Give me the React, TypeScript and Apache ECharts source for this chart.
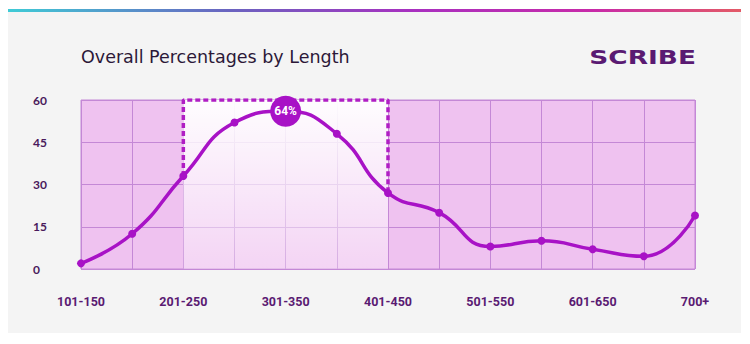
import React, { useEffect, useRef } from "react";
import * as echarts from "echarts";

const TITLE = "Overall Percentages by Length";
const BRAND = "SCRIBE";
const categories = [
  "101-150", "151-200", "201-250", "251-300", "301-350", "351-400", "401-450",
  "451-500", "501-550", "551-600", "601-650", "651-700", "700+",
];
const percentages = [2, 12.5, 33, 52, 56, 48, 27, 20, 8, 10, 7, 4.5, 19];
const yTicks = [0, 15, 30, 45, 60];
const highlightStart = 2; // "201-250"
const highlightEnd = 6; // "401-450"
const peakIndex = 4; // "301-350"
const peakLabel = "64%";

const PURPLE = "#a812c6";
const NARROW = "Roboto";

export default function App() {
  const ref = useRef<HTMLDivElement>(null);
  useEffect(() => {
    document.body.style.margin = "0";
    const chart = echarts.init(ref.current!, null, { renderer: "svg" });
    const yMax = yTicks[yTicks.length - 1];
    chart.setOption({
      animation: false,
      backgroundColor: "#ffffff",
      graphic: [
        {
          type: "rect",
          z: -10,
          shape: { x: 8, y: 12, width: 733, height: 321 },
          style: { fill: "#f4f4f4" },
          silent: true,
        },
        {
          type: "rect",
          z: -9,
          shape: { x: 8, y: 9, width: 733, height: 3 },
          style: {
            fill: new echarts.graphic.LinearGradient(0, 0, 1, 0, [
              { offset: 0, color: "#3fcbd6" },
              { offset: 0.3, color: "#6a64c0" },
              { offset: 0.55, color: "#a830c0" },
              { offset: 0.8, color: "#c82aa8" },
              { offset: 1, color: "#e35a66" },
            ]),
          },
          silent: true,
        },
        {
          type: "text",
          x: 81,
          y: 57,
          style: {
            text: TITLE,
            fill: "#2c1838",
            fontSize: 17.5,
            fontWeight: "normal",
            fontFamily: "'DejaVu Sans', sans-serif",
            verticalAlign: "middle",
            align: "left",
          },
        },
        {
          type: "text",
          x: 696,
          y: 57,
          scaleX: 1.32,
          style: {
            text: BRAND,
            fill: "#5a1a72",
            fontSize: 20,
            fontWeight: "bold",
            fontFamily: "'DejaVu Sans', sans-serif",
            verticalAlign: "middle",
            align: "right",
          },
        },
      ],
      grid: {
        left: 81,
        top: 100,
        width: 614,
        height: 169,
        show: true,
        backgroundColor: "#efc2f0",
        borderColor: "#c488d6",
        borderWidth: 1,
      },
      xAxis: {
        type: "category",
        data: categories,
        boundaryGap: false,
        axisLine: { show: false },
        axisTick: { show: false },
        splitLine: { show: true, interval: 0, lineStyle: { color: "#c488d6", width: 1 } },
        axisLabel: {
          interval: 1,
          margin: 26,
          color: "#5a1a72",
          fontSize: 12.5,
          fontWeight: "bold",
          fontFamily: NARROW,
        },
      },
      yAxis: {
        type: "value",
        min: 0,
        max: yMax,
        interval: 15,
        axisLine: { show: false },
        axisTick: { show: false },
        splitLine: { show: true, lineStyle: { color: "#c488d6", width: 1 } },
        axisLabel: {
          align: "left",
          margin: 48,
          color: "#4a1a5c",
          fontSize: 12,
          fontWeight: "bold",
          fontFamily: "Lato, sans-serif",
        },
      },
      series: [
        {
          type: "line",
          data: [
            [highlightStart, percentages[highlightStart]],
            [highlightStart, yMax],
            [highlightEnd, yMax],
            [highlightEnd, percentages[highlightEnd]],
          ],
          showSymbol: false,
          symbol: "none",
          z: 3,
          lineStyle: { color: "#b01ec4", width: 3.5, type: [5, 3] },
          silent: true,
          markArea: {
            silent: true,
            itemStyle: {
              color: new echarts.graphic.LinearGradient(0, 0, 0, 1, [
                { offset: 0, color: "rgba(255,255,255,0.97)" },
                { offset: 1, color: "rgba(255,255,255,0.3)" },
              ]),
            },
            data: [[{ xAxis: highlightStart }, { xAxis: highlightEnd }]],
          },
        },
        {
          type: "line",
          data: percentages,
          smooth: true,
          z: 4,
          symbol: "circle",
          symbolSize: 8,
          itemStyle: { color: PURPLE },
          lineStyle: { color: PURPLE, width: 3.5 },
          markPoint: {
            symbol: "circle",
            symbolSize: 31,
            itemStyle: { color: PURPLE },
            label: {
              show: true,
              formatter: peakLabel,
              color: "#ffffff",
              fontSize: 12,
              fontWeight: "bold",
              fontFamily: NARROW,
            },
            data: [{ coord: [peakIndex, percentages[peakIndex]] }],
          },
        },
      ],
    });
    return () => chart.dispose();
  }, []);
  return <div ref={ref} style={{ width: 750, height: 344 }} />;
}
